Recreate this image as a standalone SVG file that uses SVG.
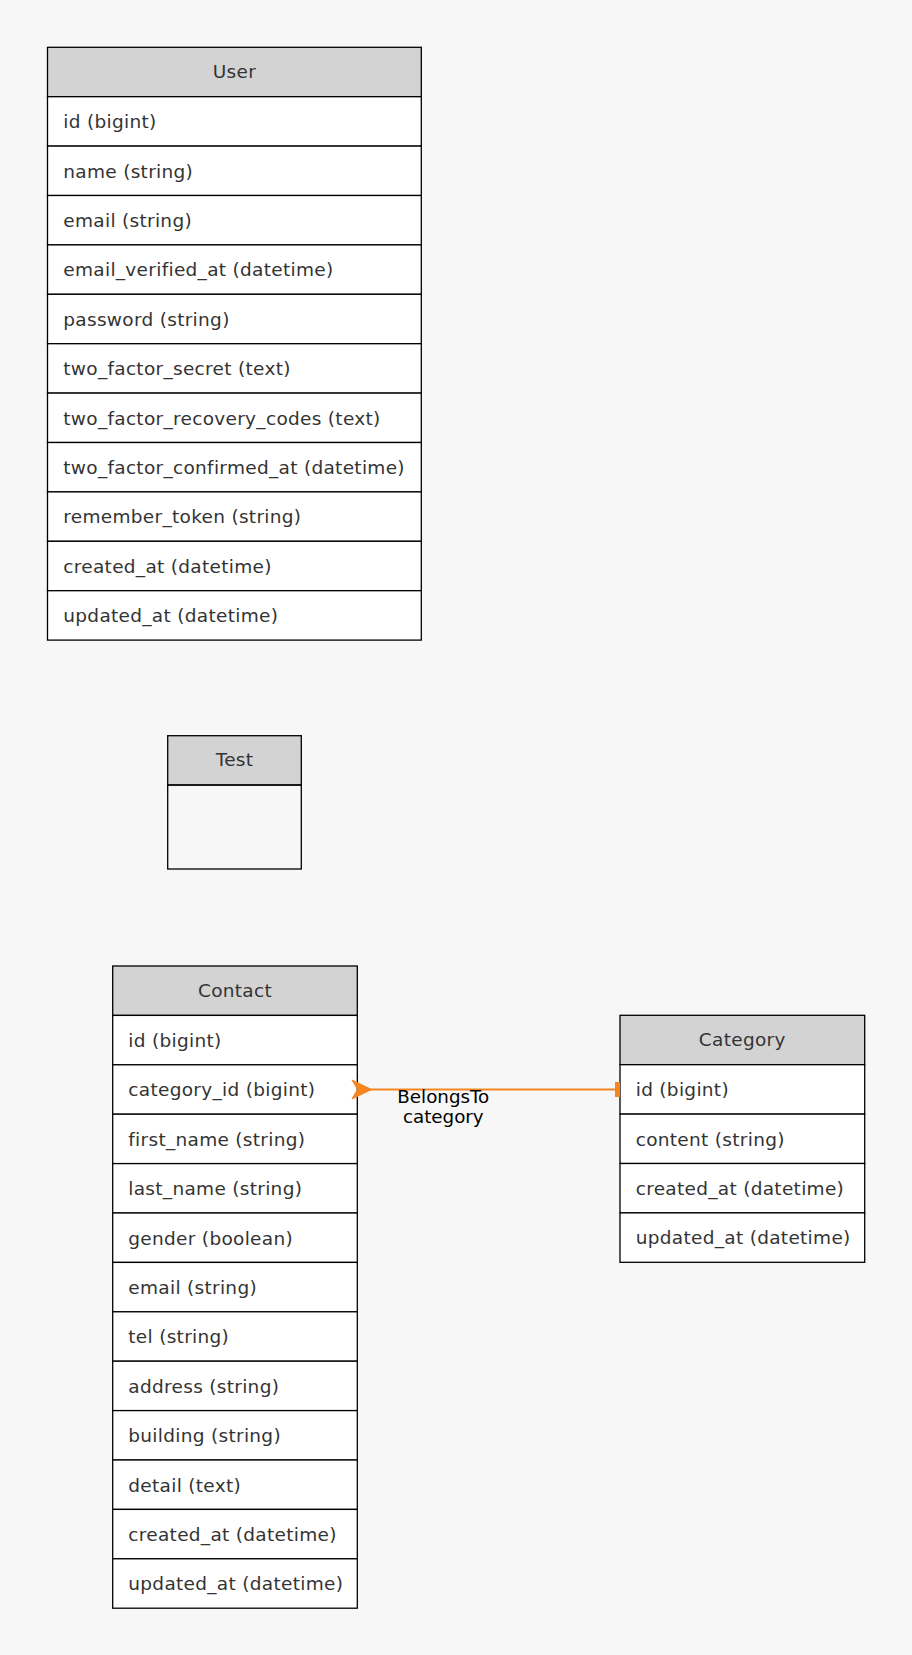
<svg xmlns="http://www.w3.org/2000/svg" width="912" height="1655" viewBox="0 0 912 1655">
<style>
.hd{fill:#d3d3d3;stroke:#000;stroke-width:1.3}
.rw{fill:#fff;stroke:#000;stroke-width:1.3}
.em{fill:none;stroke:#000;stroke-width:1.3}
.t{font-family:"DejaVu Sans",sans-serif;font-size:18.5px;letter-spacing:0.3px;fill:#333}
.h{font-family:"DejaVu Sans",sans-serif;font-size:18.5px;letter-spacing:0.3px;fill:#333;text-anchor:middle}
.lb{font-family:"DejaVu Sans",sans-serif;font-size:18.3px;fill:#000;text-anchor:middle}
</style>
<rect width="912" height="1655" fill="#f7f7f7"/>
<g id="User">
<rect class="hd" x="47.5" y="47.3" width="373.8" height="49.4"/>
<text class="h" x="234.4" y="78">User</text>
<rect class="rw" x="47.5" y="96.7" width="373.8" height="49.4"/>
<rect class="rw" x="47.5" y="146.1" width="373.8" height="49.4"/>
<rect class="rw" x="47.5" y="195.5" width="373.8" height="49.4"/>
<rect class="rw" x="47.5" y="244.9" width="373.8" height="49.4"/>
<rect class="rw" x="47.5" y="294.3" width="373.8" height="49.4"/>
<rect class="rw" x="47.5" y="343.7" width="373.8" height="49.4"/>
<rect class="rw" x="47.5" y="393.1" width="373.8" height="49.4"/>
<rect class="rw" x="47.5" y="442.5" width="373.8" height="49.4"/>
<rect class="rw" x="47.5" y="491.9" width="373.8" height="49.4"/>
<rect class="rw" x="47.5" y="541.3" width="373.8" height="49.4"/>
<rect class="rw" x="47.5" y="590.7" width="373.8" height="49.4"/>
<text class="t" x="63.3" y="128.2">id (bigint)</text>
<text class="t" x="63.3" y="177.6">name (string)</text>
<text class="t" x="63.3" y="227">email (string)</text>
<text class="t" x="63.3" y="276.4">email_verified_at (datetime)</text>
<text class="t" x="63.3" y="325.8">password (string)</text>
<text class="t" x="63.3" y="375.2">two_factor_secret (text)</text>
<text class="t" x="63.3" y="424.6">two_factor_recovery_codes (text)</text>
<text class="t" x="63.3" y="474">two_factor_confirmed_at (datetime)</text>
<text class="t" x="63.3" y="523.4">remember_token (string)</text>
<text class="t" x="63.3" y="572.8">created_at (datetime)</text>
<text class="t" x="63.3" y="622.2">updated_at (datetime)</text>
</g>
<g id="Test">
<rect class="hd" x="167.7" y="735.7" width="133.6" height="49.3"/>
<text class="h" x="234.5" y="766.4">Test</text>
<rect class="em" x="167.7" y="785" width="133.6" height="84"/>
</g>
<g id="Contact">
<rect class="hd" x="112.7" y="966" width="244.6" height="49.4"/>
<text class="h" x="235" y="996.7">Contact</text>
<rect class="rw" x="112.7" y="1015.4" width="244.6" height="49.4"/>
<rect class="rw" x="112.7" y="1064.8" width="244.6" height="49.4"/>
<rect class="rw" x="112.7" y="1114.2" width="244.6" height="49.4"/>
<rect class="rw" x="112.7" y="1163.6" width="244.6" height="49.4"/>
<rect class="rw" x="112.7" y="1213" width="244.6" height="49.4"/>
<rect class="rw" x="112.7" y="1262.4" width="244.6" height="49.4"/>
<rect class="rw" x="112.7" y="1311.8" width="244.6" height="49.4"/>
<rect class="rw" x="112.7" y="1361.2" width="244.6" height="49.4"/>
<rect class="rw" x="112.7" y="1410.6" width="244.6" height="49.4"/>
<rect class="rw" x="112.7" y="1460" width="244.6" height="49.4"/>
<rect class="rw" x="112.7" y="1509.4" width="244.6" height="49.4"/>
<rect class="rw" x="112.7" y="1558.8" width="244.6" height="49.4"/>
<text class="t" x="128.3" y="1046.9">id (bigint)</text>
<text class="t" x="128.3" y="1096.3">category_id (bigint)</text>
<text class="t" x="128.3" y="1145.7">first_name (string)</text>
<text class="t" x="128.3" y="1195.1">last_name (string)</text>
<text class="t" x="128.3" y="1244.5">gender (boolean)</text>
<text class="t" x="128.3" y="1293.9">email (string)</text>
<text class="t" x="128.3" y="1343.3">tel (string)</text>
<text class="t" x="128.3" y="1392.7">address (string)</text>
<text class="t" x="128.3" y="1442.1">building (string)</text>
<text class="t" x="128.3" y="1491.5">detail (text)</text>
<text class="t" x="128.3" y="1540.9">created_at (datetime)</text>
<text class="t" x="128.3" y="1590.3">updated_at (datetime)</text>
</g>
<g id="Category">
<rect class="hd" x="620" y="1015.3" width="244.7" height="49.4"/>
<text class="h" x="742.3" y="1046">Category</text>
<rect class="rw" x="620" y="1064.7" width="244.7" height="49.4"/>
<rect class="rw" x="620" y="1114.1" width="244.7" height="49.4"/>
<rect class="rw" x="620" y="1163.5" width="244.7" height="49.4"/>
<rect class="rw" x="620" y="1212.9" width="244.7" height="49.4"/>
<text class="t" x="635.7" y="1096.2">id (bigint)</text>
<text class="t" x="635.7" y="1145.6">content (string)</text>
<text class="t" x="635.7" y="1195">created_at (datetime)</text>
<text class="t" x="635.7" y="1244.4">updated_at (datetime)</text>
</g>
<g id="connectors">
<line x1="368" y1="1089.5" x2="616" y2="1089.5" stroke="#f5851f" stroke-width="2"/>
<polygon points="352,1080 371.5,1089.5 352,1099 357.5,1089.5" fill="#f5851f" stroke="#f5851f" stroke-width="1"/>
<rect x="615" y="1082" width="5" height="15" fill="#f5851f"/>
<text class="lb" x="443.3" y="1103">BelongsTo</text>
<text class="lb" x="443.3" y="1123">category</text>
</g>
</svg>
